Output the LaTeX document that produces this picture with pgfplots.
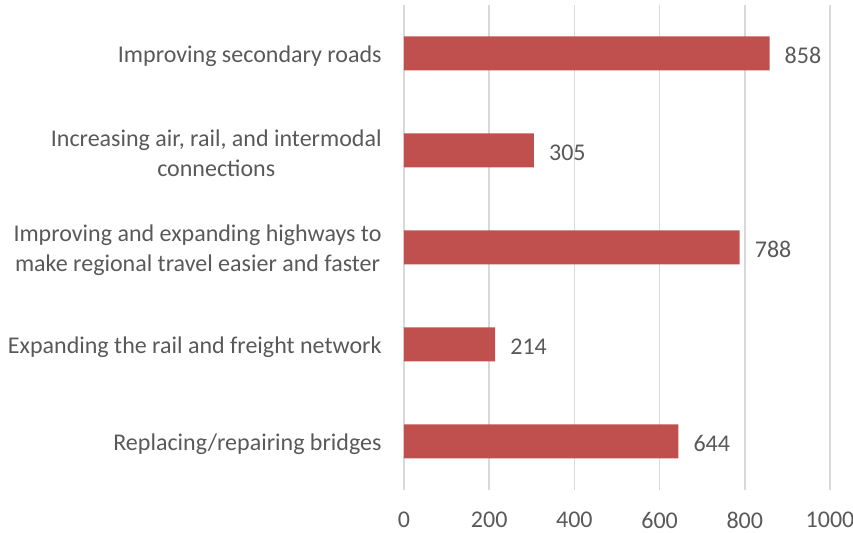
\documentclass[border=0pt]{standalone}
\usepackage{pgfplots}
\pgfplotsset{compat=1.18}
\usepackage{fontspec}
\setmainfont{Carlito}
\definecolor{barred}{HTML}{C0504D}
\definecolor{txt}{HTML}{595959}
\definecolor{gridc}{HTML}{D9D9D9}
\begin{document}
\begin{tikzpicture}
\begin{axis}[
  scale only axis,
  width=426bp, height=485bp,
  xbar, bar width=34bp,
  xmin=0, xmax=1000,
  ymin=-0.5, ymax=4.5,
  xtick={0,200,400,600,800,1000},
  ytick={0,1,2,3,4},
  yticklabels={Replacing/repairing bridges,
    Expanding the rail and freight network,
    {Improving and expanding highways to\\make regional travel easier and faster},
    {Increasing air, rail, and intermodal\\connections},
    Improving secondary roads},
  yticklabel style={align=center, font=\fontsize{24bp}{30bp}\selectfont, text=txt, inner sep=0pt, xshift=-18bp, yshift=-3bp},
  xticklabel style={font=\fontsize{24bp}{30bp}\selectfont, text=txt, inner sep=0pt, yshift=-22bp},
  /pgf/number format/assume math mode=true,
  /pgf/number format/1000 sep={},
  axis line style={draw=none},
  major tick style={draw=none},
  xmajorgrids=true, ymajorgrids=false,
  major grid style={color=gridc, line width=1.5bp},
  nodes near coords,
  nodes near coords style={font=\fontsize{24bp}{30bp}\selectfont, text=txt, inner sep=0pt, xshift=15bp, yshift=-2bp},
]
\addplot[fill=barred, draw=none] coordinates {(644,0) (214,1) (788,2) (305,3) (858,4)};
\end{axis}
\pgfresetboundingbox
\path (-404bp,-43bp) rectangle (449bp,490bp);
\end{tikzpicture}
\end{document}
